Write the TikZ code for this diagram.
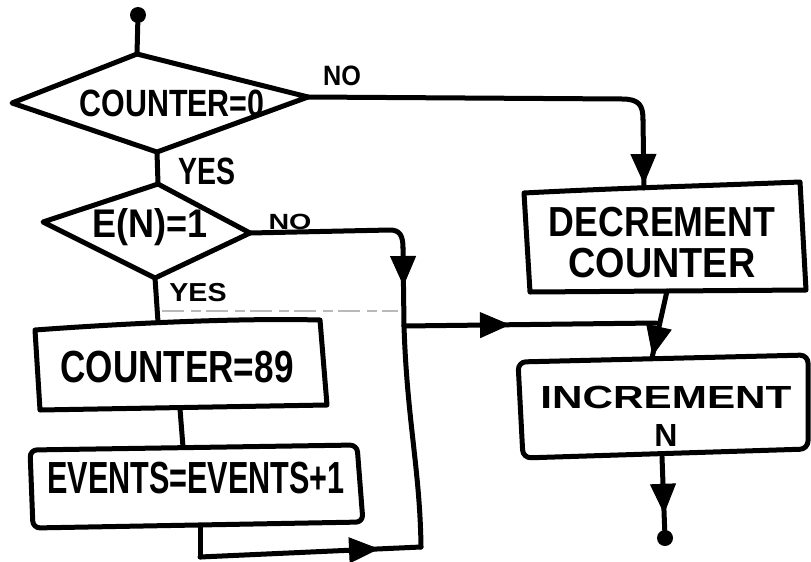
\documentclass[tikz,border=0pt]{standalone}
\usepackage{fontspec}
\setmainfont{Liberation Sans}
\usetikzlibrary{arrows.meta,decorations.markings}
% hand-lettered text: size, horizontal squeeze, text
\newcommand{\hwtext}[3]{{\fontsize{#1}{#1}\selectfont\scalebox{#2}[1]{#3}}}
\tikzset{
  ink/.style={line width=5pt, line join=round, line cap=round},
  flow/.style={ink, postaction={decorate},
    decoration={markings, mark=at position #1 with {\arrow[line width=1pt]{Triangle[length=30pt,width=26pt]}}}},
  txt/.style={inner sep=0pt, anchor=center, align=center, font=\bfseries},
  enddot/.style={circle, fill, inner sep=0pt, minimum size=16pt},
}
\begin{document}
\begin{tikzpicture}[x=1pt,y=-1pt]
\useasboundingbox (0,0) rectangle (811,562);

% ---- shape corners ----
\coordinate (d1t) at (137,54);  \coordinate (d1r) at (308,97);
\coordinate (d1b) at (157,152); \coordinate (d1l) at (12,103);
\coordinate (d2t) at (158,184); \coordinate (d2r) at (250,233);
\coordinate (d2b) at (155,278); \coordinate (d2l) at (43,222);

\coordinate (cA) at (35,330);  \coordinate (cB) at (320,320);
\coordinate (cC) at (327,405); \coordinate (cD) at (40,410);
\coordinate (eA) at (30,450);  \coordinate (eB) at (357,445);
\coordinate (eC) at (363,522); \coordinate (eD) at (33,528);
\coordinate (kA) at (524,193); \coordinate (kB) at (800,182);
\coordinate (kC) at (806,290); \coordinate (kD) at (530,292);
\coordinate (iA) at (518,362); \coordinate (iB) at (808,355);
\coordinate (iC) at (808,449); \coordinate (iD) at (523,458);

% ---- shapes ----
\draw[ink] (d1t) -- (d1r) -- (d1b) -- (d1l) -- cycle;
\draw[ink] (d2t) -- (d2r) -- (d2b) -- (d2l) -- cycle;
\draw[ink] (cA) .. controls (130,323) and (240,318) .. (cB) -- (cC) -- (cD) -- cycle;
\draw[ink, rounded corners=7pt] (eA) -- (eB) -- (eC) -- (eD) -- cycle;
\draw[ink] (kA) .. controls (620,188) and (700,186) .. (kB) -- (kC) -- (kD) -- cycle;
\draw[ink, rounded corners=8pt] (iA) -- (iB) -- (iC) -- (iD) -- cycle;

% ---- texts ----
\node[txt] (t0) at (172,103) {\hwtext{38}{0.8}{COUNTER=0}};
\node[txt] (t1) at (150,227) {\hwtext{40}{0.9}{E(N)=1}};
\node[txt] (t2) at (177,367) {\hwtext{45}{0.78}{COUNTER=89}};
\node[txt] (t3) at (196,478) {\hwtext{45}{0.68}{EVENTS=EVENTS+1}};
\node[txt, font=\bfseries\fontsize{42}{41}\selectfont] (t4) at (662,243)
  {\hwtext{42}{0.85}{DECREMENT}\\\hwtext{42}{0.9}{COUNTER}};
\node[txt, font=\bfseries\fontsize{32}{38}\selectfont] (t5) at (666,416)
  {\hwtext{32}{1.32}{INCREMENT}\\\hwtext{32}{1}{N}};
\node[txt] (no1) at (342,76) {\hwtext{28}{0.9}{NO}};
\node[txt] (yes1) at (207,171) {\hwtext{38}{0.75}{YES}};
\node[txt] (no2) at (290,222) {\hwtext{22}{1.3}{NO}};
\node[txt] (yes2) at (198,293) {\hwtext{26}{1.1}{YES}};

% ---- end points ----
\node[enddot] (start) at (138,15) {};
\node[enddot] (stop) at (665,538) {};

% ---- junctions ----
\coordinate (n1) at (643,120);
\coordinate (dtop) at (644,188);
\coordinate (n2) at (403,248);
\coordinate (j) at (404,326);
\coordinate (jr) at (656,323);
\coordinate (bj) at (421,547);
\coordinate (ebot) at (200,527);
\coordinate (ecorner) at (200,557);
\coordinate (ctop) at (158,322);
\coordinate (cbot) at (180,409);
\coordinate (etop) at (183,447);
\coordinate (kbot) at (667,291);
\coordinate (itop) at (652,358);
\coordinate (ibot) at (662,457);

% ---- connectors ----
\draw[ink] (start) -- (d1t);
\draw[ink] (d1b) -- (d2t);
\draw[ink] (d2b) -- (ctop);
\draw[ink] (cbot) -- (etop);

\draw[ink] (d1r) -- (622,99) .. controls (640,99) and (643,106) .. (n1);
\draw[flow=-4pt] (n1) -- (dtop);

\draw[ink] (d2r) -- (390,230) .. controls (400,230) and (403,236) .. (n2);
\draw[flow=38pt] (n2) -- (j);
\draw[ink] (j) .. controls (407,420) and (420,470) .. (bj);
\draw[flow=106pt] (j) -- (jr);

\draw[flow=-2pt] (kbot) -- (itop);
\draw[flow=-16pt] (ibot) -- (stop);

\draw[ink] (ebot) -- (ecorner);
\draw[flow=-42pt] (ecorner) -- (bj);

% faint trace beside the YES branch
\draw[gray!55, line width=2pt, dash pattern=on 22pt off 7pt on 10pt off 5pt] (162,311) -- (398,311);

\end{tikzpicture}
\end{document}
